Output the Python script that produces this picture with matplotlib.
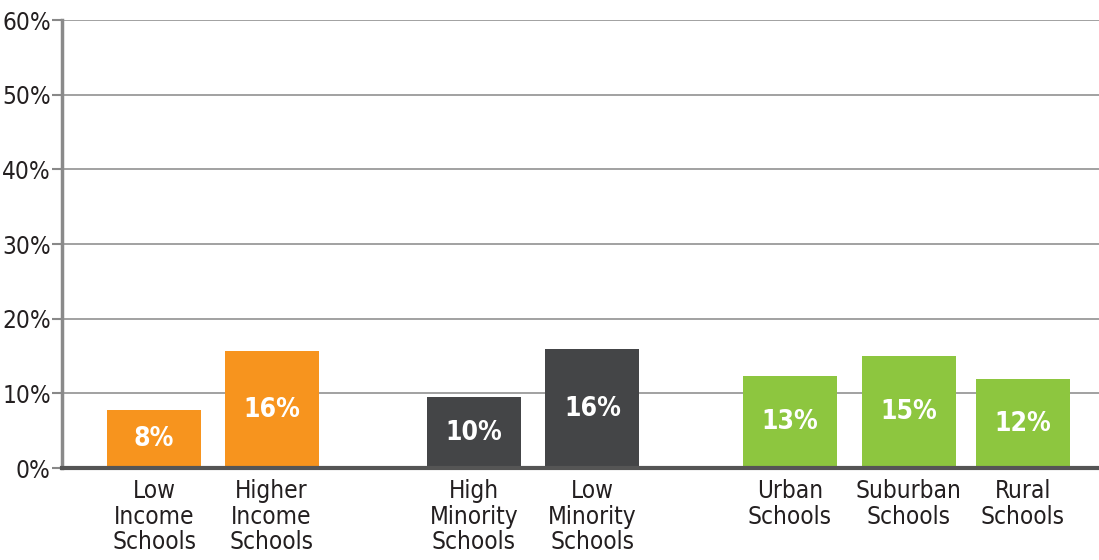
import matplotlib
matplotlib.use("Agg")
import matplotlib.pyplot as plt
from matplotlib.ticker import FuncFormatter
from matplotlib import font_manager

fl = font_manager.fontManager.ttflist
names = {f.name for f in fl}
stretch = 'normal'
if 'Liberation Sans Narrow' in names:
    fam = 'Liberation Sans Narrow'
elif any(f.name == 'DejaVu Sans' and 'Condensed' in f.fname for f in fl):
    fam = 'DejaVu Sans'
    stretch = 'condensed'
else:
    fam = 'Liberation Sans'
plt.rcParams['font.family'] = [fam, 'DejaVu Sans']
plt.rcParams['font.stretch'] = stretch

categories = ["Low\nIncome\nSchools", "Higher\nIncome\nSchools",
              "High\nMinority\nSchools", "Low\nMinority\nSchools",
              "Urban\nSchools", "Suburban\nSchools", "Rural\nSchools"]
values = [7.8, 15.7, 9.5, 15.9, 12.4, 15.0, 11.9]
value_labels = ["8%", "16%", "10%", "16%", "13%", "15%", "12%"]
positions = [0, 1, 2.72, 3.73, 5.41, 6.42, 7.39]
colors = ["#F7941E", "#F7941E", "#444547", "#444547", "#8DC63F", "#8DC63F", "#8DC63F"]
yticks = [0, 10, 20, 30, 40, 50, 60]

fig = plt.figure(figsize=(10.99, 5.6), dpi=100)
ax = fig.add_axes([0.0564, 0.164, 0.9436, 0.800])

ax.bar(positions, values, width=0.8, color=colors, zorder=3)
for x, v, lab in zip(positions, values, value_labels):
    ax.text(x, v / 2, lab, ha='center', va='center', color='white',
            fontsize=19, fontweight='bold', zorder=4)

ax.set_ylim(0, 60)
ax.set_xlim(-0.783, 8.04)
ax.set_yticks(yticks)
ax.yaxis.set_major_formatter(FuncFormatter(lambda v, p: f"{int(v)}%"))
ax.yaxis.grid(True, color='#9a9a9a', linewidth=1.3, zorder=0)
ax.set_axisbelow(True)

ax.set_xticks(positions)
ax.set_xticklabels(categories, fontsize=17.5, color='#231f20', linespacing=1.08)
ax.tick_params(axis='x', length=0, pad=8)
ax.tick_params(axis='y', length=7, width=1.5, color='#888888', labelsize=17.5,
               labelcolor='#231f20', pad=1)

for s in ['top', 'right']:
    ax.spines[s].set_visible(False)
ax.spines['left'].set_color('#8a8a8a')
ax.spines['left'].set_linewidth(2.5)
ax.spines['bottom'].set_color('#555555')
ax.spines['bottom'].set_linewidth(3)
ax.spines['bottom'].set_zorder(5)

fig.savefig("out.png", dpi=100)
